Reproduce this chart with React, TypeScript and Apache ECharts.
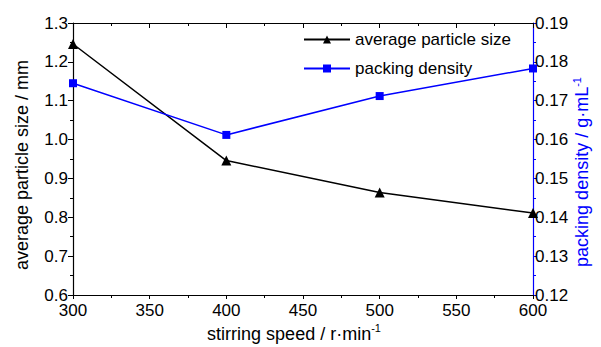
import React, { useEffect, useRef } from "react";
import * as echarts from "echarts";

const speeds = [300, 400, 500, 600];
const particleSize = [1.246, 0.946, 0.864, 0.811];
const packingDensity = [0.1745, 0.1612, 0.1712, 0.1783];
const seriesNames = ["average particle size", "packing density"];

const FONT = "'Liberation Sans', Arial, sans-serif";
const FS = 17;

export default function App() {
  const ref = useRef<HTMLDivElement>(null);
  useEffect(() => {
    if (!ref.current) return;
    const chart = echarts.init(ref.current, null, { renderer: "svg" });
    const sizeData = speeds.map((s, i) => [s, particleSize[i]]);
    const densData = speeds.map((s, i) => [s, packingDensity[i]]);
    chart.setOption({
      animation: false,
      textStyle: { fontFamily: FONT },
      grid: { left: 73, right: 68, top: 23, bottom: 52 },
      legend: {
        orient: "vertical",
        left: 298,
        top: 26,
        itemWidth: 46,
        itemHeight: 10,
        itemGap: 12,
        textStyle: { fontFamily: FONT, fontSize: FS, color: "#000" },
        data: seriesNames,
      },
      xAxis: [
        {
          type: "value",
          min: 300,
          max: 600,
          interval: 50,
          position: "bottom",
          axisLine: { lineStyle: { color: "#000", width: 1.2 } },
          axisTick: { inside: false, length: 4, lineStyle: { color: "#000" } },
          minorTick: { show: true, splitNumber: 2, length: 3, lineStyle: { color: "#000" } },
          splitLine: { show: false },
          axisLabel: { color: "#000", fontSize: FS, fontFamily: FONT, margin: 7 },
        },
        {
          type: "value",
          min: 300,
          max: 600,
          interval: 50,
          position: "top",
          axisLine: { lineStyle: { color: "#000", width: 1.2 } },
          axisTick: { inside: true, length: 5, lineStyle: { color: "#000" } },
          minorTick: { show: true, splitNumber: 2, length: 3, lineStyle: { color: "#000" } },
          splitLine: { show: false },
          axisLabel: { show: false },
        },
      ],
      yAxis: [
        {
          type: "value",
          min: 0.6,
          max: 1.3,
          interval: 0.1,
          position: "left",
          axisLine: { show: true, lineStyle: { color: "#000", width: 1.2 } },
          axisTick: { show: true, inside: false, length: 5, lineStyle: { color: "#000" } },
          minorTick: { show: true, splitNumber: 2, length: 3, lineStyle: { color: "#000" } },
          splitLine: { show: false },
          axisLabel: {
            color: "#000",
            fontSize: FS,
            fontFamily: FONT,
            margin: 5,
            formatter: (v: number) => v.toFixed(1),
          },
        },
        {
          type: "value",
          min: 0.12,
          max: 0.19,
          interval: 0.01,
          position: "right",
          axisLine: { show: true, lineStyle: { color: "#0000ff", width: 1.2 } },
          axisTick: { show: true, inside: false, length: 4, lineStyle: { color: "#0000ff" } },
          minorTick: { show: true, splitNumber: 2, length: 3, lineStyle: { color: "#0000ff" } },
          splitLine: { show: false },
          axisLabel: {
            color: "#000",
            fontSize: FS,
            fontFamily: FONT,
            margin: 2,
            formatter: (v: number) => v.toFixed(2),
          },
        },
      ],
      series: [
        {
          name: seriesNames[0],
          type: "line",
          xAxisIndex: 0,
          yAxisIndex: 0,
          data: sizeData,
          symbol: "triangle",
          symbolSize: 10,
          itemStyle: { color: "#000" },
          lineStyle: { color: "#000", width: 1.5 },
        },
        {
          name: seriesNames[1],
          type: "line",
          xAxisIndex: 0,
          yAxisIndex: 1,
          data: densData,
          symbol: "rect",
          symbolSize: 8,
          itemStyle: { color: "#0000ff" },
          lineStyle: { color: "#0000ff", width: 1.5 },
        },
      ],
      graphic: [
        {
          type: "text",
          x: 22,
          y: 165,
          rotation: Math.PI / 2,
          style: {
            text: "average particle size / mm",
            fontSize: 18,
            fontFamily: FONT,
            fill: "#000",
            align: "center",
            verticalAlign: "middle",
          },
        },
        {
          type: "text",
          x: 582,
          y: 172,
          rotation: Math.PI / 2,
          style: {
            text: "{a|packing density / g·mL}{s|-1}",
            fill: "#0000ff",
            align: "center",
            verticalAlign: "middle",
            rich: {
              a: { fontSize: 18, fontFamily: FONT, fill: "#0000ff" },
              s: { fontSize: 11, fontFamily: FONT, fill: "#0000ff", padding: [0, 0, 10, 0] },
            },
          },
        },
        {
          type: "text",
          x: 294,
          y: 334,
          style: {
            text: "{a|stirring speed / r·min}{s|-1}",
            fill: "#000",
            align: "center",
            verticalAlign: "middle",
            rich: {
              a: { fontSize: 18, fontFamily: FONT, fill: "#000" },
              s: { fontSize: 11, fontFamily: FONT, fill: "#000", padding: [0, 0, 12, 0] },
            },
          },
        },
      ],
    });
    return () => chart.dispose();
  }, []);
  return <div ref={ref} style={{ width: 601, height: 347, marginLeft: -8, marginTop: -8 }} />;
}
